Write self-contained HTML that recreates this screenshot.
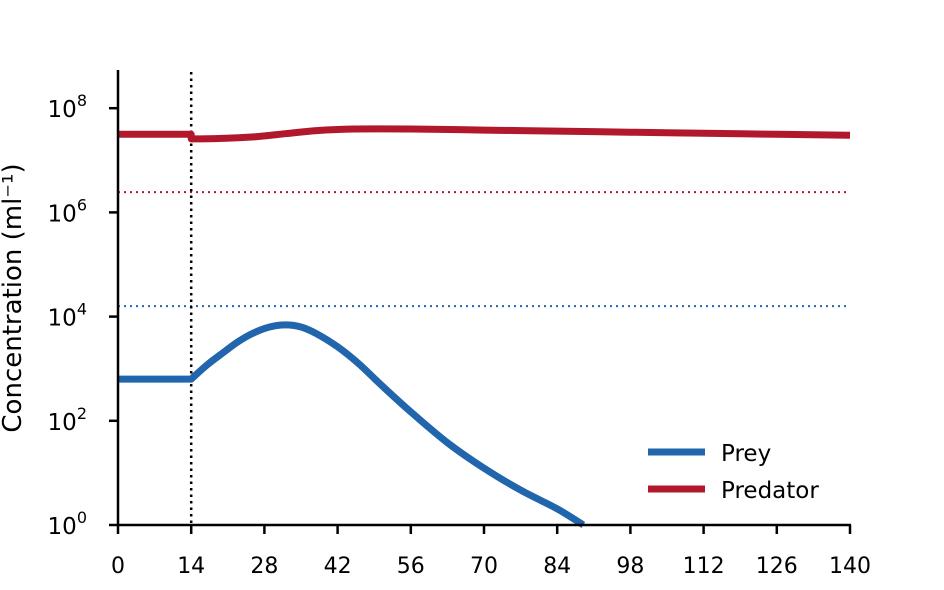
<!DOCTYPE html>
<html><head><meta charset="utf-8"><style>
body{margin:0;background:#fff;}
svg{display:block;font-family:"DejaVu Sans","Liberation Sans",sans-serif;}
</style></head><body>
<svg id="chart" width="944" height="590" xmlns="http://www.w3.org/2000/svg"></svg>
<script>
const xTicks=[0,14,28,42,56,70,84,98,112,126,140];
const yTickExps=[0,2,4,6,8];
const preyX=[14,17,20,23,26,29,32,35,38,42,46,50,56,63,70,77,84,89];
const preyLog=[2.8,3.07,3.3,3.52,3.69,3.8,3.84,3.8,3.67,3.42,3.1,2.72,2.17,1.58,1.09,0.67,0.31,0.0];
const preyFlatLog=2.8;
const predX=[14,20,26,32,38,45,56,70,84,98,112,126,140];
const predLog=[7.41,7.42,7.45,7.51,7.57,7.6,7.6,7.58,7.56,7.54,7.52,7.5,7.48];
const predFlatLog=7.5;
const predThreshLog=6.39;
const preyThreshLog=4.2;
const interventionDay=14;

const NS="http://www.w3.org/2000/svg";
const svg=document.getElementById('chart');
const x0=118,x1=850,y0=525,pxPerDec=52.1;
const xs=v=>x0+(v-0)/(140-0)*(x1-x0);
const ys=l=>y0-l*pxPerDec;
function mk(t,a,p){const e=document.createElementNS(NS,t);for(const k in a)e.setAttribute(k,a[k]);(p||svg).appendChild(e);return e;}

let e=mk('line',{x1:x0,x2:x1,y1:ys(predThreshLog),y2:ys(predThreshLog),stroke:'#b2182b','stroke-width':2,'stroke-dasharray':'2,4'});


e=mk('line',{x1:x0,x2:x1,y1:ys(preyThreshLog),y2:ys(preyThreshLog),stroke:'#2166ac','stroke-width':2,'stroke-dasharray':'2,4'});


e=mk('line',{x1:xs(interventionDay),x2:xs(interventionDay),y1:72,y2:y0,stroke:'#000','stroke-width':2.5,'stroke-dasharray':'2.5,4'});



function smooth(X,L,flat){
  const P=X.map((x,i)=>[xs(x),ys(L[i])]);
  let d='M'+xs(0).toFixed(1)+','+ys(flat).toFixed(1)+'L'+P[0][0].toFixed(1)+','+ys(flat).toFixed(1)+'L'+P[0][0].toFixed(1)+','+P[0][1].toFixed(1);
  for(let i=0;i<P.length-1;i++){
    const p0=P[Math.max(i-1,0)],p1=P[i],p2=P[i+1],p3=P[Math.min(i+2,P.length-1)];
    const c1=[p1[0]+(p2[0]-p0[0])/6,p1[1]+(p2[1]-p0[1])/6];
    const c2=[p2[0]-(p3[0]-p1[0])/6,p2[1]-(p3[1]-p1[1])/6];
    d+='C'+c1[0].toFixed(1)+','+c1[1].toFixed(1)+' '+c2[0].toFixed(1)+','+c2[1].toFixed(1)+' '+p2[0].toFixed(1)+','+p2[1].toFixed(1);
  }
  return d;
}
e=mk('path',{d:smooth(predX,predLog,predFlatLog),fill:'none',stroke:'#b2182b','stroke-width':7,'stroke-linejoin':'round'});


e=mk('path',{d:smooth(preyX,preyLog,preyFlatLog),fill:'none',stroke:'#2166ac','stroke-width':7,'stroke-linejoin':'round'});



e=mk('line',{x1:x0,x2:x0,y1:70,y2:y0+1,stroke:'#000','stroke-width':2.5});


e=mk('line',{x1:x0-1,x2:x1+1,y1:y0,y2:y0,stroke:'#000','stroke-width':2.5});


xTicks.forEach(t=>{
  mk('line',{x1:xs(t),x2:xs(t),y1:y0,y2:y0+9,stroke:'#000','stroke-width':2.5});
  const tx=mk('text',{x:xs(t),y:573,'text-anchor':'middle','font-size':22});
  tx.textContent=t;
  
  
});
yTickExps.forEach(p=>{
  mk('line',{x1:x0-9,x2:x0,y1:ys(p),y2:ys(p),stroke:'#000','stroke-width':2.5});
  const tx=mk('text',{x:x0-31,y:ys(p)+9,'text-anchor':'end','font-size':23});
  tx.textContent='10';
  const s=mk('tspan',{dy:-11,'font-size':16},tx);s.textContent=p;
  
  
});
e=mk('text',{x:0,y:0,transform:'translate(21,298) rotate(-90)','text-anchor':'middle','font-size':26});
e.textContent='Concentration (ml⁻¹)';



e=mk('line',{x1:648,x2:705,y1:452,y2:452,stroke:'#2166ac','stroke-width':7});


e=mk('text',{x:721,y:461,'font-size':23});e.textContent='Prey';


e=mk('line',{x1:648,x2:705,y1:489,y2:489,stroke:'#b2182b','stroke-width':7});


e=mk('text',{x:721,y:498,'font-size':23});e.textContent='Predator';


</script>
</body></html>
